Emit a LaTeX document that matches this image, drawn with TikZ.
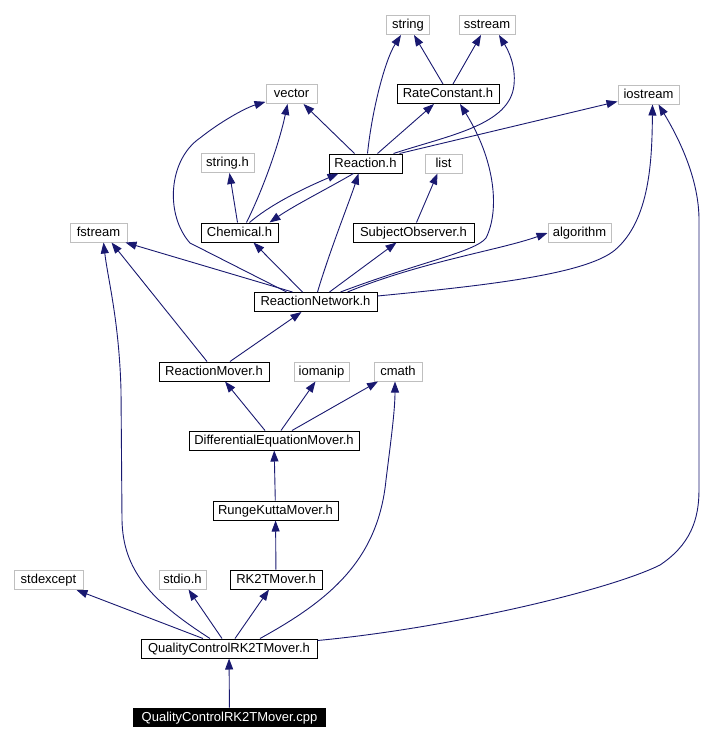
\documentclass[tikz,border=0pt]{standalone}
\usepackage{fontspec}
\setmainfont{Liberation Sans}
\usepackage{xcolor}
\usepackage{tikz}
\usetikzlibrary{calc,positioning,arrows.meta}

\definecolor{edgeblue}{HTML}{191970}
\definecolor{extgrey}{HTML}{BFBFBF}

\begin{document}
\begin{tikzpicture}[x=1pt, y=-1pt,
    every node/.style={font=\fontsize{13}{15}\selectfont, minimum height=19pt, inner xsep=2pt, inner ysep=0pt, text height=9.5pt, text depth=2.5pt, line width=1pt},
    header/.style={draw=black},
    stdlib/.style={draw=extgrey},
    dep/.style={draw=edgeblue, line width=0.9pt, -{Triangle[length=11pt, width=8pt]}}]
    \useasboundingbox (0,0) rectangle (726,742);

    \node [stdlib, minimum width=43pt] (string) at (408,25) {string};
    \node [stdlib, minimum width=56pt] (sstream) at (487,25) {sstream};
    \node [stdlib, minimum width=51pt] (vector) at (291.5,94) {vector};
    \node [header, minimum width=102pt] (rate_const) at (448,94) {RateConstant.h};
    \node [stdlib, minimum width=61pt] (iostream) at (648.5,94.5) {iostream};
    \node [stdlib, minimum width=53pt] (string_h) at (227.5,163) {string.h};
    \node [header, minimum width=73pt] (reaction) at (365.5,163.5) {Reaction.h};
    \node [stdlib, minimum width=37pt] (list) at (443.5,163.5) {list};
    \node [stdlib, minimum width=57pt] (fstream) at (98.5,232.5) {fstream};
    \node [header, minimum width=77pt] (chemical) at (239.5,232.5) {Chemical.h};
    \node [header, minimum width=121pt] (subj_obs) at (413.5,232.5) {SubjectObserver.h};
    \node [stdlib, minimum width=63pt] (algorithm) at (579.5,233) {algorithm};
    \node [header, minimum width=123pt] (reaction_net) at (315.5,302) {ReactionNetwork.h};
    \node [header, minimum width=110pt] (reaction_mover) at (214,371.5) {ReactionMover.h};
    \node [stdlib, minimum width=55pt] (iomanip) at (321.5,371.5) {iomanip};
    \node [stdlib, minimum width=48pt] (cmath) at (398,371.5) {cmath};
    \node [header, minimum width=170pt] (diff_eq) at (274,440.5) {DifferentialEquationMover.h};
    \node [header, minimum width=125pt] (runge_kutta) at (275.5,510.5) {RungeKuttaMover.h};
    \node [stdlib, minimum width=69pt] (stdexcept) at (48.5,580) {stdexcept};
    \node [stdlib, minimum width=47pt] (stdio) at (182.5,579.5) {stdio.h};
    \node [header, minimum width=92pt] (rk2t) at (276,579.5) {RK2TMover.h};
    \node [header, minimum width=176pt] (qc_h) at (229,648.5) {QualityControlRK2TMover.h};
    \node [fill=black, text=white, minimum width=193pt] (qc_cpp) at (229.5,717.5) {QualityControlRK2TMover.cpp};

    % includes of the .cpp and the .h
    \draw[dep] (qc_cpp) -- (qc_h);
    \draw[dep] ([xshift=-26pt]qc_h.north) -- ([xshift=28pt]stdexcept.south);
    \draw[dep] ([xshift=-7pt]qc_h.north) -- ([xshift=6pt]stdio.south);
    \draw[dep] ([xshift=6pt]qc_h.north) -- ([xshift=-7pt]rk2t.south);
    \draw[dep] ([xshift=-19pt]qc_h.north) .. controls (150,600) and (123,570) .. (122,520)
        -- (121,390) .. controls (119,320) and (108,280) .. ([xshift=5pt]fstream.south);
    \draw[dep] ([xshift=31pt]qc_h.north) .. controls (330,600) and (378,560) .. (386,480)
        .. controls (391,440) and (395,410) .. ([xshift=-3pt]cmath.south);
    \draw[dep] ([yshift=-2pt]qc_h.north east) .. controls (450,628) and (610,590) .. (660,565)
        .. controls (690,545) and (699,520) .. (699,490) -- (699,220)
        .. controls (699,180) and (680,140) .. ([xshift=10pt]iostream.south);

    % the mover chain
    \draw[dep] (rk2t) -- (runge_kutta);
    \draw[dep] (runge_kutta) -- (diff_eq);
    \draw[dep] ([xshift=-9pt]diff_eq.north) -- ([xshift=11pt]reaction_mover.south);
    \draw[dep] ([xshift=7pt]diff_eq.north) -- ([xshift=-6pt]iomanip.south);
    \draw[dep] ([xshift=18pt]diff_eq.north) -- ([xshift=-20pt]cmath.south);
    \draw[dep] ([xshift=16pt]reaction_mover.north) -- ([xshift=-14pt]reaction_net.south);
    \draw[dep] ([xshift=-7pt]reaction_mover.north) -- ([xshift=13pt]fstream.south);

    % ReactionNetwork.h
    \draw[dep] ([xshift=-23pt]reaction_net.north) -- ([xshift=27pt]fstream.south);
    \draw[dep] ([xshift=-13pt]reaction_net.north) -- ([xshift=14pt]chemical.south);
    \draw[dep] ([xshift=2pt]reaction_net.north) .. controls (330,250) and (350,200) .. ([xshift=-7pt]reaction.south);
    \draw[dep] ([xshift=14pt]reaction_net.north) -- ([xshift=-17pt]subj_obs.south);
    \draw[dep] ([xshift=32pt]reaction_net.north) .. controls (420,262) and (500,250) .. (algorithm.west);
    \draw[dep] ([xshift=25pt]reaction_net.north) .. controls (420,262) and (475,252) .. (486,238)
        .. controls (500,210) and (495,160) .. ([xshift=12pt]rate_const.south);
    \draw[dep] ([yshift=6pt]reaction_net.east) .. controls (480,286) and (585,275) .. (615,250)
        .. controls (650,220) and (652,160) .. ([xshift=4pt]iostream.south);
    \draw[dep] ([xshift=-29pt]reaction_net.north) -- (190,243) .. controls (165,215) and (168,160) .. (200,138)
        .. controls (220,122) and (245,108) .. (vector);

    % Reaction.h and Chemical.h
    \draw[dep] ([xshift=-11pt]reaction.north) -- ([xshift=12pt]vector.south);
    \draw[dep] ([xshift=2pt]reaction.north) .. controls (372,110) and (385,60) .. ([xshift=-7pt]string.south);
    \draw[dep] ([xshift=12pt]reaction.north) -- ([xshift=-14pt]rate_const.south);
    \draw[dep] ([xshift=28pt]reaction.north) .. controls (450,135) and (510,125) .. (514,85)
        .. controls (516,65) and (508,50) .. ([xshift=12pt]sstream.south);
    \draw[dep] ([xshift=34pt]reaction.north) -- ([yshift=-7pt]iostream.west);
    \draw[dep] ([xshift=-12pt]reaction.south) .. controls (325,190) and (295,205) .. ([xshift=30pt]chemical.north);
    \draw[dep] ([xshift=10pt]chemical.north) .. controls (270,205) and (300,190) .. ([xshift=-27pt]reaction.south);
    \draw[dep] ([xshift=-2pt]chemical.north) -- ([xshift=2pt]string_h.south);
    \draw[dep] ([xshift=7pt]chemical.north) .. controls (265,185) and (280,140) .. ([xshift=-4pt]vector.south);
    \draw[dep] ([xshift=3pt]subj_obs.north) -- ([xshift=-6pt]list.south);
    \draw[dep] ([xshift=-5pt]rate_const.north) -- ([xshift=6pt]string.south);
    \draw[dep] ([xshift=5pt]rate_const.north) -- ([xshift=-6pt]sstream.south);

\end{tikzpicture}
\end{document}
